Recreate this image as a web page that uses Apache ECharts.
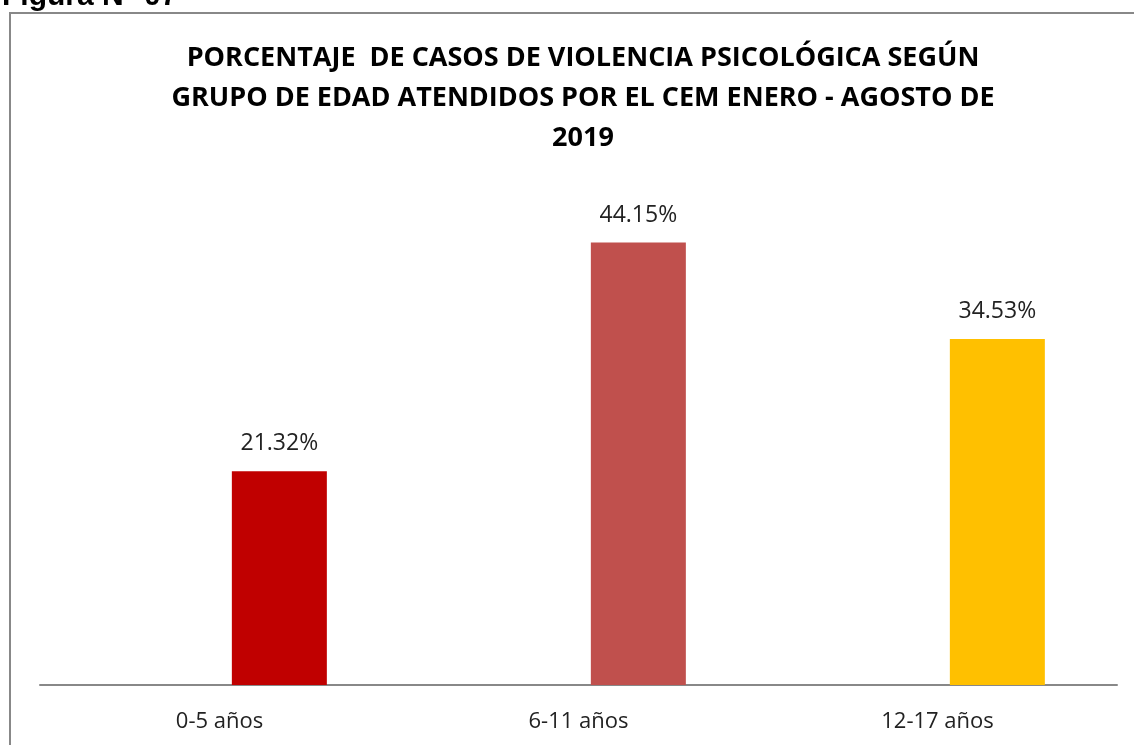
<!DOCTYPE html>
<html>
<head>
<meta charset="utf-8">
<script src="https://cdn.jsdelivr.net/npm/echarts@6/dist/echarts.min.js"></script>
<style>
  html, body { margin: 0; padding: 0; background: #fff; }
  #chart { width: 1134px; height: 745px; }
</style>
</head>
<body>
<div id="chart"></div>
<script>
var categories = ['0-5 años', '6-11 años', '12-17 años']
var porcentajes = [21.32, 44.15, 34.53]
var colores = ['#C00000', '#C0504D', '#FFC000']
var vacio = ['-', '-', '-'] // serie vacía del Excel, deja la barra desplazada

var chart = echarts.init(document.getElementById('chart'))
chart.setOption({
  animation: false,
  textStyle: { fontFamily: 'Open Sans' },
  title: {
    text: 'PORCENTAJE  DE CASOS DE VIOLENCIA PSICOLÓGICA SEGÚN\nGRUPO DE EDAD ATENDIDOS POR EL CEM ENERO - AGOSTO DE\n2019',
    left: 578,
    textAlign: 'center',
    top: 33,
    textStyle: {
      fontFamily: 'Open Sans',
      fontSize: 27,
      fontWeight: 'bold',
      lineHeight: 40,
      color: '#000'
    }
  },
  graphic: [{
    type: 'rect',
    shape: { x: 10, y: 13, width: 1200, height: 800 },
    style: { fill: null, stroke: '#888', lineWidth: 2 }
  }, {
    type: 'text',
    left: 2,
    top: -18,
    style: {
      text: 'Figura N° 07',
      fontFamily: 'Liberation Sans',
      fontWeight: 'bold',
      fontSize: 30,
      fill: '#000'
    }
  }],
  grid: {
    left: 40,
    right: 17,
    top: 184,
    bottom: 60
  },
  xAxis: {
    type: 'category',
    data: categories,
    axisLine: { lineStyle: { color: '#888', width: 2 } },
    axisTick: { show: false },
    axisLabel: {
      fontSize: 22,
      color: '#222',
      margin: 26
    }
  },
  yAxis: {
    type: 'value',
    min: 0,
    max: 50,
    show: false
  },
  series: [{
    type: 'bar',
    data: vacio,
    barWidth: 95,
    barGap: '26%'
  }, {
    type: 'bar',
    barWidth: 95,
    barGap: '26%',
    data: porcentajes.map(function (v, i) {
      return { value: v, itemStyle: { color: colores[i] } }
    }),
    label: {
      show: true,
      position: 'top',
      distance: 16,
      fontSize: 23,
      color: '#222',
      formatter: function (p) { return p.value.toFixed(2) + '%' }
    }
  }]
})
</script>
</body>
</html>
